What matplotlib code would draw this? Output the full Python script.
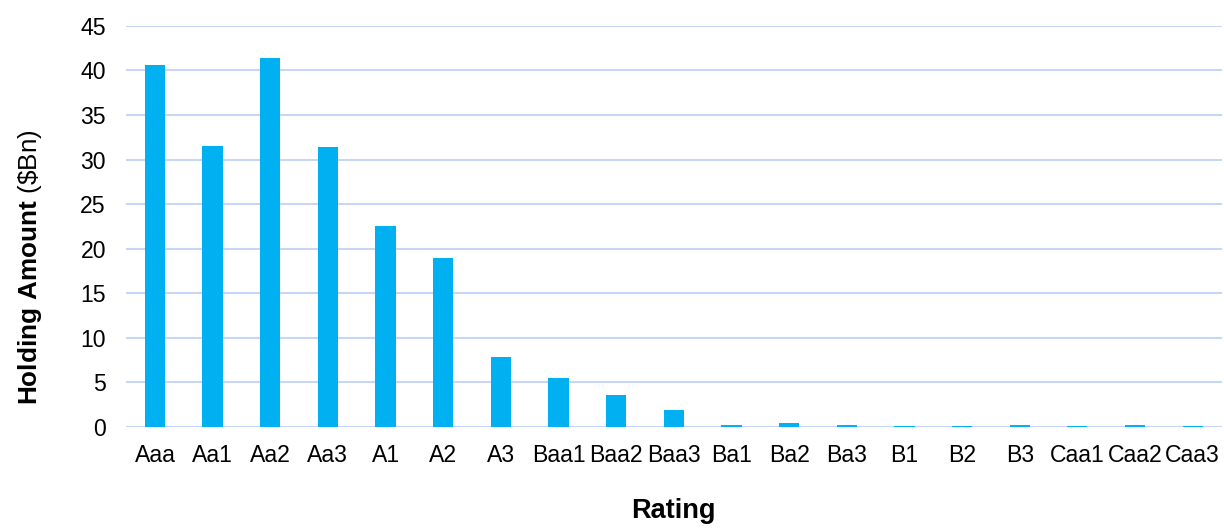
import matplotlib
matplotlib.use("Agg")
import matplotlib.pyplot as plt
import numpy as np

plt.rcParams['font.family'] = ['Liberation Sans', 'DejaVu Sans']
plt.rcParams['mathtext.fontset'] = 'custom'
plt.rcParams['mathtext.rm'] = 'Liberation Sans'
plt.rcParams['mathtext.bf'] = 'Liberation Sans:bold'

# ratings and holding amounts ($Bn)
ratings = ["Aaa", "Aa1", "Aa2", "Aa3", "A1", "A2", "A3", "Baa1", "Baa2", "Baa3",
           "Ba1", "Ba2", "Ba3", "B1", "B2", "B3", "Caa1", "Caa2", "Caa3"]
amounts = [40.6, 31.5, 41.4, 31.4, 22.6, 19.0, 7.8, 5.5, 3.6, 1.9,
           0.25, 0.45, 0.2, 0.05, 0.05, 0.2, 0.05, 0.2, 0.05]
yticks = [0, 5, 10, 15, 20, 25, 30, 35, 40, 45]

fig = plt.figure(figsize=(12.24, 5.29), dpi=100)
ax = fig.add_axes([0.103, 0.193, 0.895, 0.758])

x = np.arange(len(ratings))
ax.bar(x, amounts, width=0.35, color="#00B0F0", zorder=3)

ax.set_xlim(-0.5, len(ratings) - 0.5)
ax.set_ylim(0, 45)
ax.set_yticks(yticks)
ax.set_xticks(x)
ax.set_xticklabels(ratings)
ax.grid(axis="y", color="#C9D5F7", linewidth=1.5, zorder=0)
for s in ax.spines.values():
    s.set_visible(False)
ax.tick_params(axis="both", length=0, labelsize=16.6, colors="#000000")
ax.tick_params(axis="x", pad=12.5)
ax.tick_params(axis="y", pad=14.5)

ax.set_xlabel("Rating", fontsize=19.5, fontweight="bold", labelpad=22)
ax.set_ylabel(r"$\mathbf{Holding\ Amount}$ (\$Bn)", fontsize=18.8, labelpad=26, y=0.398)

fig.savefig("out.png", dpi=100)
